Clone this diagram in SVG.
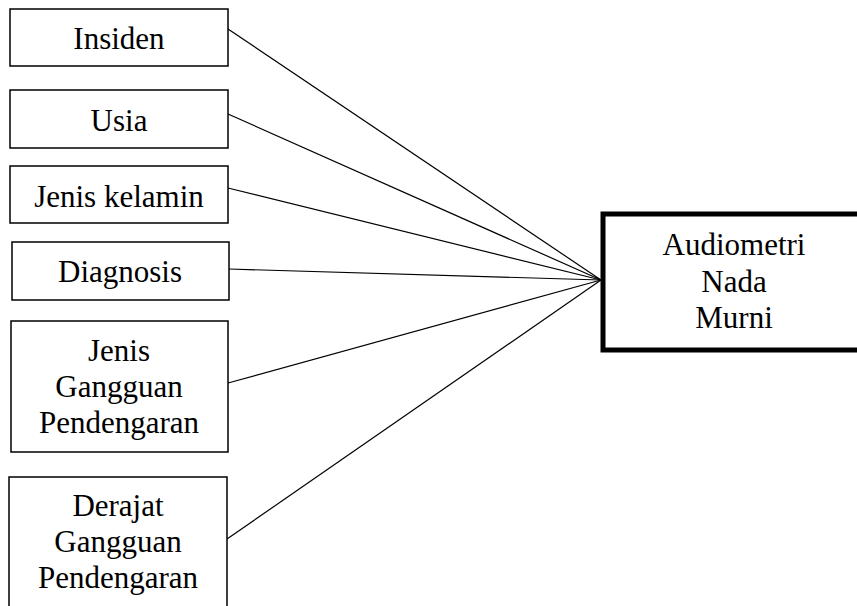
<svg xmlns="http://www.w3.org/2000/svg" width="857" height="606" viewBox="0 0 857 606">
<style>
.box{fill:#fff;stroke:#000;stroke-width:1.5}
.main{fill:#fff;stroke:#000;stroke-width:5}
text{font-family:"Liberation Serif","Times New Roman",serif;font-size:31px;fill:#000;text-anchor:middle}
.conn line{stroke:#000;stroke-width:1.2}
</style>
<rect width="857" height="606" fill="#fff"/>
<g class="conn">
<line x1="228" y1="29" x2="601" y2="280"/>
<line x1="228" y1="114" x2="601" y2="280"/>
<line x1="228" y1="188" x2="601" y2="280"/>
<line x1="229" y1="269" x2="601" y2="280"/>
<line x1="228" y1="383" x2="601" y2="280"/>
<line x1="227" y1="539" x2="601" y2="280"/>
</g>
<g id="insiden"><rect class="box" x="10" y="9" width="218" height="57"/><text x="119" y="49">Insiden</text></g>
<g id="usia"><rect class="box" x="10" y="90" width="218" height="58"/><text x="119" y="131">Usia</text></g>
<g id="jenis-kelamin"><rect class="box" x="10" y="166" width="218" height="57"/><text x="119" y="207">Jenis kelamin</text></g>
<g id="diagnosis"><rect class="box" x="12" y="242" width="217" height="58"/><text x="120" y="282">Diagnosis</text></g>
<g id="jenis-gangguan"><rect class="box" x="11" y="321" width="217" height="131"/><text x="119" y="361">Jenis</text><text x="119" y="397">Gangguan</text><text x="119" y="433">Pendengaran</text></g>
<g id="derajat-gangguan"><rect class="box" x="9" y="477" width="218" height="140"/><text x="118" y="516">Derajat</text><text x="118" y="552">Gangguan</text><text x="118" y="588">Pendengaran</text></g>
<g id="audiometri"><rect class="main" x="603" y="214" width="270" height="136"/><text x="734" y="255">Audiometri</text><text x="734" y="292">Nada</text><text x="734" y="328">Murni</text></g>
</svg>
